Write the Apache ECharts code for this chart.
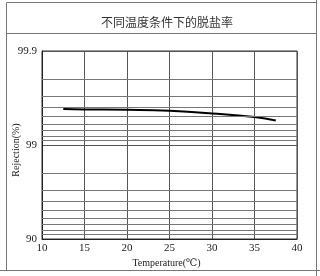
<!DOCTYPE html>
<html><head><meta charset="utf-8">
<script src="https://cdn.jsdelivr.net/npm/echarts@6/dist/echarts.min.js"></script>
<style>html,body{margin:0;padding:0;background:#fff}#c{width:320px;height:276px}</style>
</head><body><div id="c"></div>
<script>
const title = '不同温度条件下的脱盐率';
const temperatures = [12.5, 15, 20, 25, 30, 35, 37.5];
const rejection = [99.585, 99.582, 99.578, 99.567, 99.539, 99.495, 99.45];
const minorGrid = [0.2,0.3,0.4,0.5,0.6,0.7,0.8,0.9,2,3,4,5,6,7,8,9]; // 100 - rejection
const xName = 'Temperature(℃)';
const yName = 'Rejection(%)';

const chart = echarts.init(document.getElementById('c'), null, {renderer:'canvas'});
const serif = '"Liberation Serif","DejaVu Serif",serif';
chart.setOption({
  animation:false,
  title:{text:title,left:162,top:11,textAlign:'center',textStyle:{fontFamily:'"Noto Sans CJK SC",sans-serif',fontSize:12,fontWeight:'normal',color:'#333'}},
  graphic:[
    {type:'rect',shape:{x:6.5,y:2.5,width:310,height:268},style:{fill:null,stroke:'#777',lineWidth:1},silent:true},
    {type:'line',shape:{x1:6.5,y1:33.5,x2:316.5,y2:33.5},style:{stroke:'#777',lineWidth:1},silent:true},
    {type:'line',shape:{x1:316.5,y1:0,x2:316.5,y2:276},style:{stroke:'#777',lineWidth:1},silent:true},
    {type:'line',shape:{x1:0,y1:270.5,x2:320,y2:270.5},style:{stroke:'#777',lineWidth:1},silent:true}
  ],
  grid:{left:42,right:23,top:51,bottom:37,show:true,borderColor:'#333',borderWidth:1,containLabel:false,outerBoundsMode:'none'},
  xAxis:{type:'value',min:10,max:40,interval:5,
    name:xName,nameLocation:'middle',nameGap:19,nameMoveOverlap:false,
    nameTextStyle:{fontFamily:serif,fontSize:10,color:'#222',padding:[0,6,0,0]},
    axisLine:{show:true,lineStyle:{color:'#222'}},axisTick:{show:false},
    axisLabel:{fontFamily:serif,fontSize:11,color:'#222',margin:4},
    splitLine:{show:true,lineStyle:{color:'#555',width:1}}},
  yAxis:{type:'log',logBase:10,min:0.1,max:10,inverse:true,
    name:yName,nameLocation:'middle',nameGap:21,nameRotate:90,nameMoveOverlap:false,
    nameTextStyle:{fontFamily:serif,fontSize:10,color:'#222',padding:[0,10,0,0]},
    axisLine:{show:true,lineStyle:{color:'#222'}},axisTick:{show:false},
    axisLabel:{fontFamily:serif,fontSize:11,color:'#222',margin:5,
      formatter:v=>String(+(100-v).toFixed(1))},
    splitLine:{show:true,lineStyle:{color:'#555',width:1}}},
  series:[{
    type:'line',smooth:true,symbol:'none',
    data:temperatures.map((t,i)=>[t,+(100-rejection[i]).toFixed(4)]),
    lineStyle:{color:'#000',width:2},
    markLine:{silent:true,symbol:['none','none'],label:{show:false},
      lineStyle:{color:'#777',type:'solid',width:1},
      data:minorGrid.map(v=>({yAxis:v}))}
  }]
});
</script></body></html>
